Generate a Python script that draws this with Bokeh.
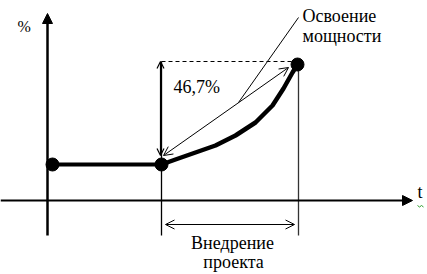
from bokeh.plotting import figure
from bokeh.models import Range1d, Arrow, NormalHead, OpenHead
from bokeh.core.properties import value
from bokeh.embed import file_html
from bokeh.resources import INLINE

# ---- data (schematic units: t along x, % along y) ----
phase_t = [5, 114, 250]          # start, start of implementation, end of mastering
phase_y = [36, 36, 136]          # levels at those moments
flat_t = [5, 114]
flat_y = [36, 36]
curve_t = [114, 128, 148, 168, 188, 208, 225, 236, 245, 250]
curve_y = [36, 41, 48, 55, 65, 78, 95, 112, 128, 136]
growth_label = "46,7%"
y_label = "%"
x_label = "t"
mastering_label = ["Освоение", "мощности"]
implement_label = ["Внедрение", "проекта"]

FONT_NAME = "Liberation Serif"

p = figure(width=427, height=274, output_backend="svg", toolbar_location=None,
           x_range=Range1d(-47, 380), y_range=Range1d(-74, 200),
           x_axis_type=None, y_axis_type=None, min_border=0,
           outline_line_color=None, background_fill_color="white",
           border_fill_color="white")
p.grid.visible = False

t0, t1, t2 = 0, phase_t[1], phase_t[2] + 1
ytop = phase_y[2] + 3

# axes with arrow heads
p.add_layout(Arrow(end=NormalHead(size=10, fill_color="black", line_color="black"),
                   x_start=t0, y_start=-35, x_end=t0, y_end=187,
                   line_width=2.5, line_color="black"))
p.add_layout(Arrow(end=NormalHead(size=10, fill_color="black", line_color="black"),
                   x_start=-47, y_start=0, x_end=365, y_end=0,
                   line_width=2, line_color="black"))

# vertical guide lines
p.segment(x0=[t1], y0=[-35], x1=[t1], y1=[ytop], line_color="black", line_width=1.3)
p.segment(x0=[t2], y0=[-35], x1=[t2], y1=[phase_y[2]], line_color="#333333", line_width=1.3)
# dashed top line
p.segment(x0=[t1], y0=[ytop], x1=[t2], y1=[ytop], line_color="black",
          line_width=1, line_dash="4 3")

# vertical double arrow (growth)
p.add_layout(Arrow(start=OpenHead(size=7, line_width=1.2), end=OpenHead(size=7, line_width=1.2),
                   x_start=t1 - 1, y_start=phase_y[0] + 9, x_end=t1 - 1, y_end=ytop,
                   line_width=1.2, line_color="black"))
# diagonal double arrow
p.add_layout(Arrow(start=OpenHead(size=9, line_width=1), end=OpenHead(size=9, line_width=1),
                   x_start=t1 + 2, y_start=phase_y[0] + 9, x_end=t2 - 10, y_end=phase_y[2] - 3,
                   line_width=1, line_color="black"))
# leader line to label
p.segment(x0=[191], y0=[98], x1=[t2], y1=[183], line_color="black", line_width=1)

# horizontal double arrow (implementation)
p.add_layout(Arrow(start=OpenHead(size=9, line_width=1), end=OpenHead(size=9, line_width=1),
                   x_start=t1 + 4, y_start=-24, x_end=t2 - 4, y_end=-24,
                   line_width=1, line_color="black"))

# thick curve
p.line(flat_t, flat_y, line_color="black", line_width=4)
p.line(curve_t, curve_y, line_color="black", line_width=4.5, line_cap="round", line_join="round")
p.scatter(phase_t, phase_y, size=13, fill_color="black", line_color="black")

# texts
p.text(x=[-30], y=[166], text=[y_label], text_font=value(FONT_NAME), text_font_size="16px",
       text_color="black")
p.text(x=[370], y=[-1], text=[x_label], text_font=value(FONT_NAME), text_font_size="18px",
       text_color="black")
p.text(x=[255, 255], y=[175, 155], text=mastering_label, text_font=value(FONT_NAME),
       text_font_size="18px", text_color="black")
p.text(x=[126], y=[104], text=[growth_label], text_font=value(FONT_NAME), text_font_size="18px",
       text_color="black")
p.text(x=[185, 186], y=[-52, -71], text=implement_label, text_font=value(FONT_NAME),
       text_font_size="18px", text_align="center", text_color="black")
# spell-check squiggle under t
p.line([370, 372, 374, 376], [-5, -6.5, -5, -6.5], line_color="#2e9e2e", line_width=1)

open("out.html", "w").write(file_html(p, INLINE))
